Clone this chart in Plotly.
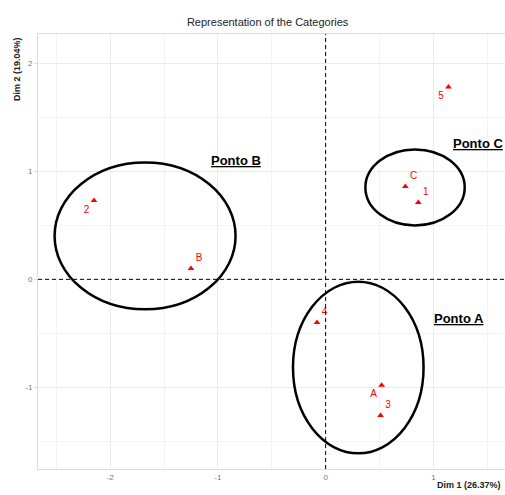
import plotly.graph_objects as go

# Data
labels = ["5", "C", "1", "4", "A", "3", "2", "B"]
dim1 = [1.14, 0.74, 0.86, -0.08, 0.52, 0.51, -2.15, -1.25]
dim2 = [1.78, 0.86, 0.71, -0.40, -0.98, -1.26, 0.73, 0.10]
label_pos = ["bottom left", "top right", "top right", "top right",
             "bottom left", "top right", "bottom left", "top right"]

group_names = ["Ponto B", "Ponto C", "Ponto A"]
ell_cx = [-1.676, 0.83, 0.303]
ell_cy = [0.402, 0.85, -0.816]
ell_rx = [0.840, 0.461, 0.606]
ell_ry = [0.680, 0.352, 0.794]
group_label_x = [-0.836, 1.167, 1.234]
group_label_y = [1.097, 1.26, -0.367]
group_label_anchor = ["center", "left", "center"]

xrange_ = [-2.67, 1.665]
yrange_ = [-1.755, 2.27]

fig = go.Figure()

fig.add_trace(go.Scatter(
    x=dim1, y=dim2, mode="markers+text", text=labels,
    textposition=label_pos,
    textfont=dict(color="#FF0000", size=10, family="Liberation Sans"),
    marker=dict(symbol="triangle-up", color="#FF0000", size=6),
    showlegend=False, cliponaxis=False,
))

shapes = []
shapes.append(dict(type="line", xref="x", yref="paper", x0=0, x1=0, y0=0, y1=1,
                   line=dict(color="black", width=1, dash="4px,3px")))
shapes.append(dict(type="line", xref="paper", yref="y", x0=0, x1=1, y0=0, y1=0,
                   line=dict(color="black", width=1, dash="4px,3px")))
for cx, cy, rx, ry in zip(ell_cx, ell_cy, ell_rx, ell_ry):
    shapes.append(dict(type="circle", xref="x", yref="y",
                       x0=cx - rx, x1=cx + rx, y0=cy - ry, y1=cy + ry,
                       line=dict(color="black", width=2.5)))

annotations = []
for name, gx, gy, anc in zip(group_names, group_label_x, group_label_y, group_label_anchor):
    annotations.append(dict(x=gx, y=gy, xref="x", yref="y", text=f"<u><b>{name}</b></u>",
                            showarrow=False, font=dict(size=13, color="black",
                                                       family="Liberation Sans"),
                            xanchor=anc, yanchor="middle"))
annotations.append(dict(x=1.0, y=0, xref="paper", yref="paper",
                        text="<b>Dim 1 (26.37%)</b>", showarrow=False,
                        xanchor="right", yanchor="top", xshift=-2, yshift=-9,
                        font=dict(size=9, color="#222", family="Liberation Sans")))
annotations.append(dict(x=0, y=1.0, xref="paper", yref="paper",
                        text="<b>Dim 2 (19.04%)</b>", showarrow=False, textangle=-90,
                        xanchor="right", yanchor="top", xshift=-14, yshift=-1,
                        font=dict(size=9, color="#222", family="Liberation Sans")))

fig.update_layout(
    width=505, height=495,
    margin=dict(l=38, r=0, t=34, b=26),
    paper_bgcolor="white", plot_bgcolor="white",
    title=dict(text="Representation of the Categories", x=0.53, xanchor="center",
               y=1 - 22 / 495, yanchor="middle",
               font=dict(size=11, color="#222", family="Liberation Sans")),
    shapes=shapes, annotations=annotations,
    font=dict(family="Liberation Sans"),
)
fig.update_xaxes(range=xrange_, tickvals=[-2, -1, 0, 1], ticktext=["-2", "-1", "0", "1"],
                 showgrid=True, gridcolor="#EBEBEB", gridwidth=1,
                 minor=dict(tickvals=[-2.5, -1.5, -0.5, 0.5, 1.5], showgrid=True,
                            gridcolor="#F3F3F3", gridwidth=1),
                 zeroline=False, showline=True, linecolor="#DDDDDD", mirror=True,
                 ticks="", tickfont=dict(size=8, color="#777"))
fig.update_yaxes(range=yrange_, tickvals=[-1, 0, 1, 2], ticktext=["-1", "0", "1", "2"],
                 showgrid=True, gridcolor="#EBEBEB", gridwidth=1,
                 minor=dict(tickvals=[-1.5, -0.5, 0.5, 1.5], showgrid=True,
                            gridcolor="#F3F3F3", gridwidth=1),
                 zeroline=False, showline=True, linecolor="#DDDDDD", mirror=True,
                 ticks="outside", ticklen=3, tickcolor="#DDDDDD",
                 tickfont=dict(size=8, color="#777"))

fig.write_html("out.html", config={"displayModeBar": False},
               post_script="document.body.style.margin='0';document.body.style.overflow='hidden';")
